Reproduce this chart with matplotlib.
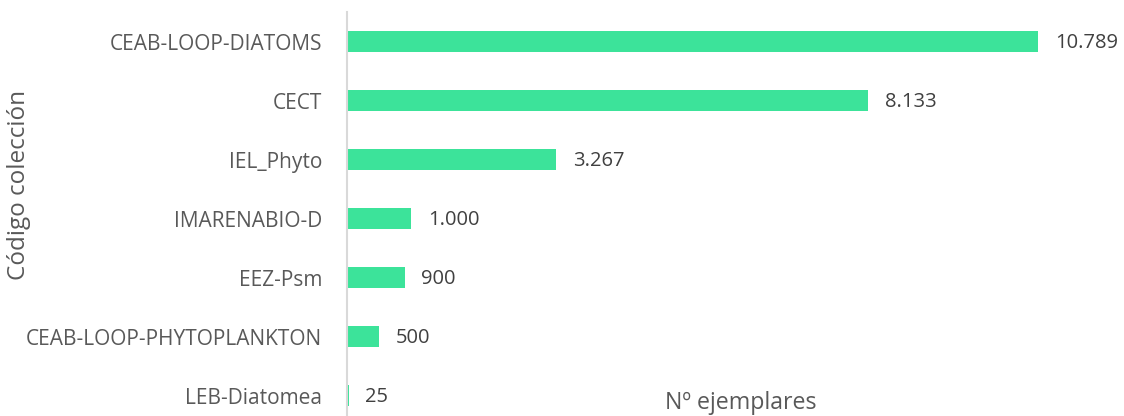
import matplotlib
matplotlib.use("Agg")
import matplotlib.pyplot as plt

categories = ["CEAB-LOOP-DIATOMS", "CECT", "IEL_Phyto", "IMARENABIO-D",
              "EEZ-Psm", "CEAB-LOOP-PHYTOPLANKTON", "LEB-Diatomea"]
values = [10789, 8133, 3267, 1000, 900, 500, 25]
value_labels = ["10.789", "8.133", "3.267", "1.000", "900", "500", "25"]

plt.rcParams['font.family'] = ['Open Sans', 'DejaVu Sans']

W, H = 1124, 416
fig = plt.figure(figsize=(W/100, H/100), dpi=100)
left = 347 / W
bottom_px = 425
ax = fig.add_axes([left, 1 - bottom_px / H, 768.6 / W, (bottom_px - 12) / H])

pos = list(range(len(categories)))
ax.barh(pos, values, height=0.34, color="#3ce39a")
ax.set_ylim(len(categories) - 0.5, -0.5)
ax.set_xlim(0, 12000)
ax.set_yticks(pos)
ax.set_yticklabels(categories, fontsize=15, color="#595959")
ax.tick_params(axis='y', length=0, pad=18)
ax.set_xticks([])
for s in ["top", "right", "bottom"]:
    ax.spines[s].set_visible(False)
ax.spines["left"].set_color("#d9d9d9")
ax.spines["left"].set_linewidth(1.5)

for p, v, lab in zip(pos, values, value_labels):
    ax.annotate(lab, (v, p), xytext=(12, -1), textcoords="offset points",
                va="center", ha="left", fontsize=14.5, color="#404040")

fig.text(741 / W, 1 - 403 / H, "Nº ejemplares", ha="center", va="center",
         fontsize=16.7, color="#595959")
fig.text(19 / W, 1 - 185 / H, "Código colección", ha="center", va="center",
         rotation=90, fontsize=17.5, color="#595959")

fig.savefig("out.png", dpi=100)
